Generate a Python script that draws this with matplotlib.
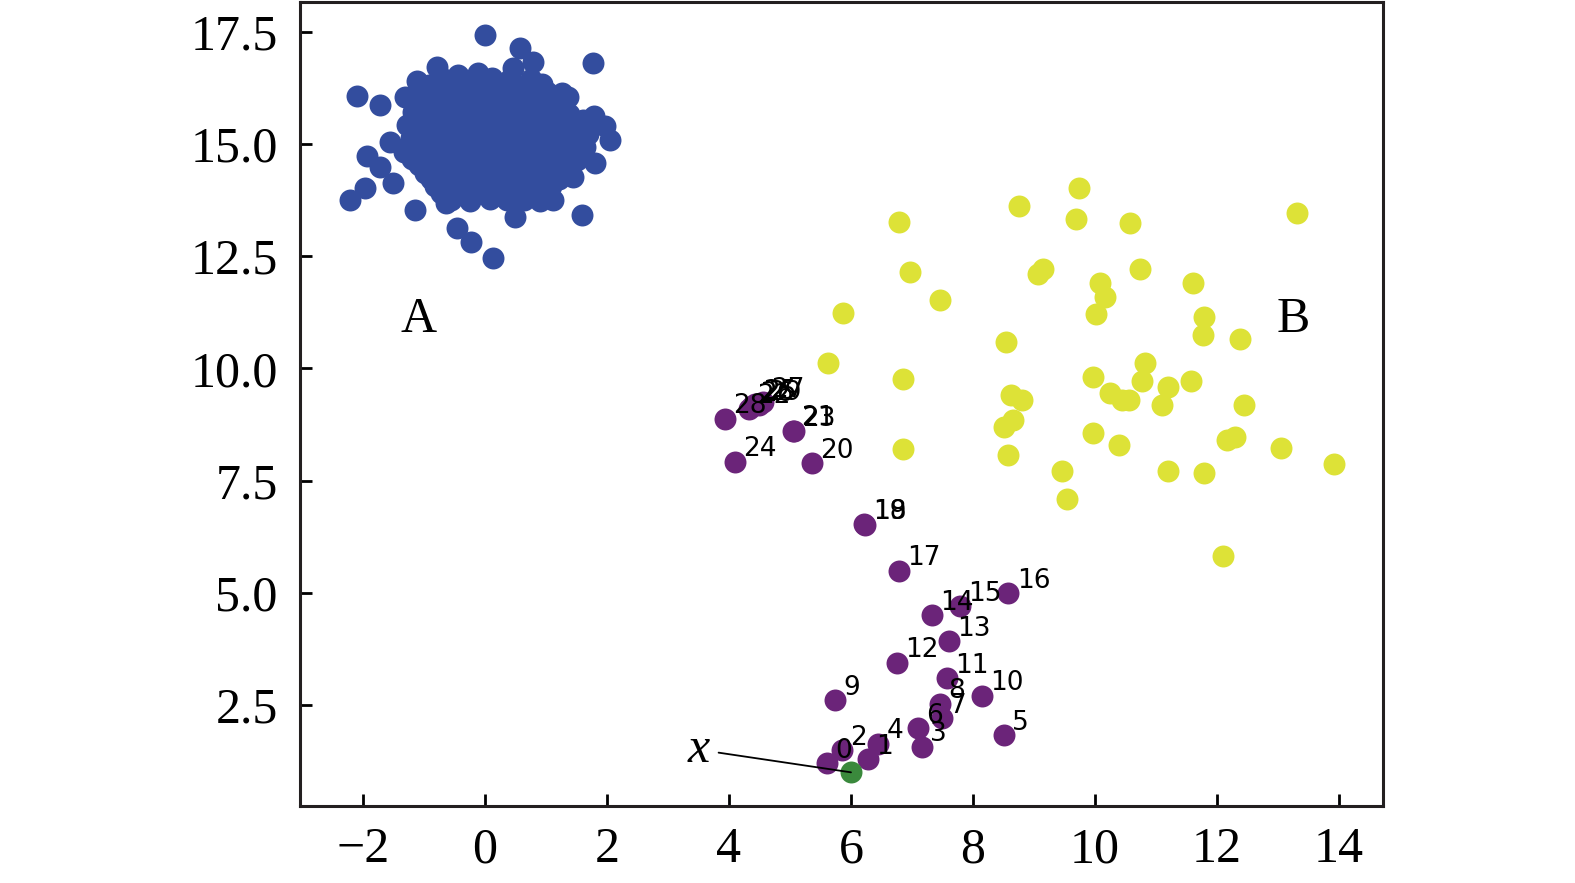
import matplotlib
matplotlib.use("Agg")
import matplotlib.pyplot as plt

# cluster A (blue)
a_x = [0.00, 0.57, 0.79, 1.77, -2.10, -1.72, -1.31, -0.79, -1.12, -0.44, -0.11, 0.46,
       1.01, 1.37, 1.78, 1.97, 2.05, 1.80, 1.59, -1.56, -1.94, -1.72, -1.97, -2.21,
       -1.50, -1.15, -0.46, -0.22, 0.14, 0.49, -0.63, 1.12, 1.45,
       -0.92, -0.48, -0.18, 0.22, 0.61, 0.93,
       -1.02, -0.69, -0.41, -0.08, 0.24, 0.52, 0.83, 1.14,
       -1.18, -0.88, -0.57, -0.31, 0.03, 0.33, 0.68, 1.02, 1.38,
       -1.28, -0.97, -0.72, -0.42, -0.12, 0.19, 0.49, 0.82, 1.09, 1.52,
       -1.21, -0.93, -0.58, -0.29, 0.04, 0.31, 0.62, 0.91, 1.22, 1.49,
       -1.32, -1.01, -0.68, -0.39, -0.13, 0.18, 0.52, 0.79, 1.13, 1.41,
       -1.08, -0.79, -0.52, -0.21, 0.12, 0.42, 0.71, 1.03, 1.31,
       -0.88, -0.61, -0.27, 0.02, 0.33, 0.58, 0.92, 1.21,
       -0.72, -0.38, -0.08, 0.23, 0.49, 0.81, 1.02,
       -0.71, -0.32, 0.12, 0.41, 0.76,
       -0.86, -0.54, -0.26, 0.06, 0.37, 0.69, 0.97, 1.26,
       -1.06, -0.74, -0.46, -0.14, 0.16, 0.44, 0.86, 1.19,
       -1.14, -0.86, -0.53, -0.24, 0.08, 0.36, 0.66, 0.94, 1.31, 1.61,
       -1.11, -0.79, -0.46, -0.16, 0.14, 0.46, 0.76, 1.04, 1.36, 1.69,
       -1.16, -0.84, -0.51, -0.19, 0.11, 0.41, 0.69, 1.01, 1.29, 1.64,
       -1.19, -0.91, -0.59, -0.31, 0.01, 0.29, 0.61, 0.89, 1.21, 1.51,
       -0.99, -0.71, -0.41, -0.09, 0.21, 0.51, 0.79, 1.11, 1.39,
       -0.81, -0.49, -0.19, 0.11, 0.39, 0.71, 1.09,
       -0.56, -0.24, 0.09, 0.36, 0.64, 0.91]
a_y = [17.43, 17.13, 16.83, 16.80, 16.07, 15.87, 16.05, 16.72, 16.39, 16.54, 16.57, 16.69,
       16.16, 16.05, 15.61, 15.39, 15.09, 14.57, 13.42, 15.05, 14.72, 14.49, 14.01, 13.75,
       14.12, 13.53, 13.12, 12.82, 12.45, 13.38, 13.68, 13.75, 14.27,
       16.31, 16.28, 16.35, 16.30, 16.26, 16.33,
       16.02, 15.98, 16.04, 15.97, 16.03, 15.99, 16.01, 15.96,
       15.72, 15.68, 15.74, 15.69, 15.71, 15.66, 15.73, 15.70, 15.67,
       15.41, 15.38, 15.44, 15.39, 15.42, 15.37, 15.43, 15.40, 15.36, 15.42,
       15.12, 15.08, 15.13, 15.07, 15.11, 15.09, 15.14, 15.10, 15.06, 15.12,
       14.81, 14.78, 14.83, 14.79, 14.82, 14.77, 14.80, 14.84, 14.79, 14.81,
       14.52, 14.48, 14.53, 14.49, 14.51, 14.47, 14.52, 14.50, 14.48,
       14.21, 14.18, 14.23, 14.19, 14.22, 14.17, 14.20, 14.21,
       13.91, 13.88, 13.92, 13.87, 13.90, 13.89, 13.93,
       16.46, 16.43, 16.47, 16.44, 16.45,
       16.16, 16.13, 16.17, 16.14, 16.15, 16.12, 16.16, 16.14,
       15.86, 15.83, 15.87, 15.84, 15.85, 15.82, 15.86, 15.84,
       15.56, 15.53, 15.57, 15.54, 15.55, 15.52, 15.56, 15.54, 15.57, 15.53,
       15.26, 15.23, 15.27, 15.24, 15.25, 15.22, 15.26, 15.24, 15.27, 15.23,
       14.96, 14.93, 14.97, 14.94, 14.95, 14.92, 14.96, 14.94, 14.97, 14.93,
       14.66, 14.63, 14.67, 14.64, 14.65, 14.62, 14.66, 14.64, 14.67, 14.63,
       14.36, 14.33, 14.37, 14.34, 14.35, 14.32, 14.36, 14.34, 14.37,
       14.06, 14.03, 14.07, 14.04, 14.05, 14.02, 14.06,
       13.76, 13.73, 13.77, 13.74, 13.75, 13.72]

# cluster B (yellow)
b_x = [6.78, 8.75, 9.73, 9.68, 10.57, 13.31, 6.96, 9.06, 9.14, 10.73,
       7.46, 10.08, 10.16, 10.02, 11.61, 5.87, 11.79, 11.77, 12.37, 8.54,
       5.63, 10.82, 10.77, 6.85, 9.97, 8.63, 8.80, 10.25, 10.44, 10.55,
       11.19, 11.09, 11.57, 12.44, 8.50, 8.66, 9.97, 10.40, 6.85, 8.57,
       12.16, 12.30, 13.05, 13.91, 9.46, 11.19, 11.79, 9.54, 12.09]
b_y = [13.27, 13.62, 14.01, 13.32, 13.23, 13.47, 12.15, 12.10, 12.21, 12.21,
       11.52, 11.91, 11.60, 11.21, 11.91, 11.23, 11.15, 10.74, 10.65, 10.59,
       10.11, 10.12, 9.72, 9.76, 9.81, 9.40, 9.29, 9.44, 9.29, 9.29,
       9.58, 9.18, 9.72, 9.18, 8.70, 8.85, 8.55, 8.29, 8.20, 8.07,
       8.40, 8.48, 8.22, 7.87, 7.72, 7.72, 7.67, 7.08, 5.82]

# path points 0..29 (purple)
p_x = [5.60, 6.28, 5.85, 7.16, 6.45, 8.50, 7.10, 7.49, 7.46, 5.74,
       8.14, 7.57, 6.75, 7.60, 7.32, 7.79, 8.58, 6.78, 6.22, 6.23,
       5.36, 5.05, 4.33, 5.06, 4.10, 4.43, 4.38, 4.55, 3.93, 4.50]
p_y = [1.20, 1.29, 1.49, 1.57, 1.64, 1.83, 1.98, 2.20, 2.53, 2.61,
       2.70, 3.10, 3.44, 3.92, 4.50, 4.70, 4.99, 5.49, 6.53, 6.52,
       7.88, 8.61, 9.10, 8.60, 7.92, 9.20, 9.15, 9.24, 8.88, 9.18]

# start point x
start = (6.0, 1.0)

fig = plt.figure(figsize=(15.75, 8.83), dpi=100)
ax = fig.add_axes([0.1905, 0.0872, 0.6876, 0.9105])

ax.scatter(a_x, a_y, s=250, color="#334d9e", linewidths=0)
ax.scatter(b_x, b_y, s=250, color="#dde237", linewidths=0)
ax.scatter(p_x, p_y, s=250, color="#6b2479", linewidths=0)
ax.scatter([start[0]], [start[1]], s=250, color="#3a893c", linewidths=0, zorder=3)

for i in range(len(p_x)):
    ax.annotate(str(i), (p_x[i], p_y[i]), xytext=(6, 4), textcoords="offset points",
                fontsize=19, family="DejaVu Sans", va="baseline", zorder=4)

ax.annotate("x", xy=start, xytext=(3.33, 1.23), fontsize=36, family="Liberation Serif",
            style="italic", va="baseline",
            arrowprops=dict(arrowstyle="-", color="black", lw=1.3, shrinkA=4, shrinkB=0))

ax.text(-1.39, 10.81, "A", fontsize=36, family="Liberation Serif")
ax.text(12.98, 10.81, "B", fontsize=36, family="Liberation Serif")

ax.set_xlim(-3.03, 14.72)
ax.set_ylim(0.25, 18.16)
ax.set_xticks(range(-2, 15, 2))
ax.set_yticks([2.5, 5.0, 7.5, 10.0, 12.5, 15.0, 17.5])
ax.set_yticklabels(["2.5", "5.0", "7.5", "10.0", "12.5", "15.0", "17.5"])
ax.tick_params(direction="in", length=8.5, width=2, labelsize=36,
               top=False, right=False)
ax.tick_params(axis="x", pad=15)
ax.tick_params(axis="y", pad=16)
for lab in ax.get_xticklabels() + ax.get_yticklabels():
    lab.set_family("Liberation Serif")
for sp in ax.spines.values():
    sp.set_linewidth(2.2)
    sp.set_color("#231f20")

fig.savefig("out.png", dpi=100)
